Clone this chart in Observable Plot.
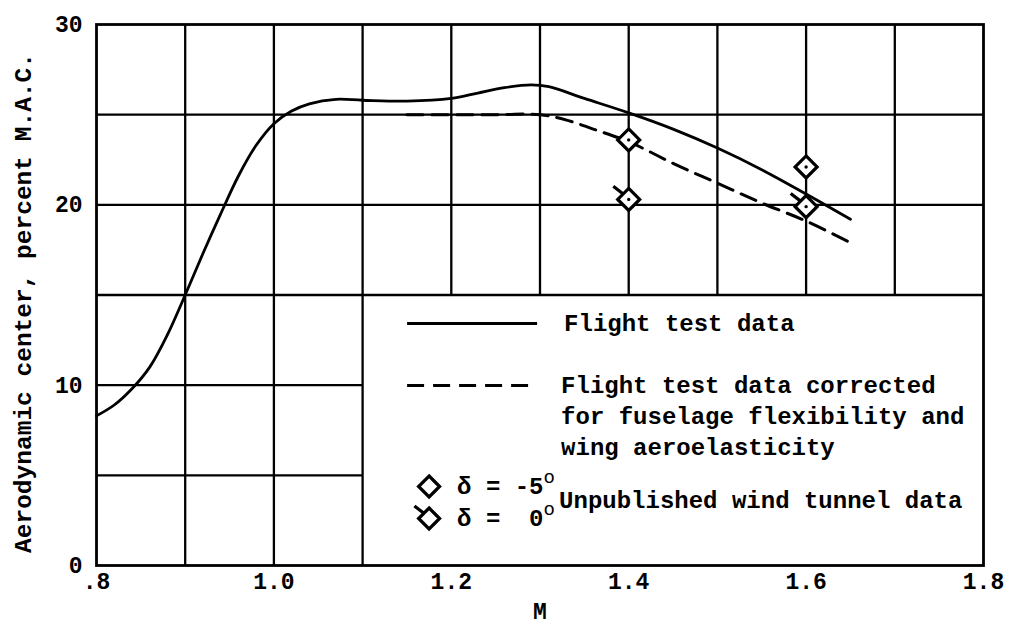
<!DOCTYPE html>
<html>
<head>
<meta charset="utf-8">
<script src="https://cdn.jsdelivr.net/npm/d3@7"></script>
<script src="https://cdn.jsdelivr.net/npm/@observablehq/plot@0.6"></script>
<style>
  html, body { margin: 0; padding: 0; background: white; }
  #chart { width: 1016px; height: 634px; }
</style>
</head>
<body>
<div id="chart"></div>
<script>
// ---- Data ----
const flightM  = [0.80, 0.82, 0.84, 0.86, 0.88, 0.90, 0.92, 0.94, 0.96, 0.98, 1.00, 1.02, 1.04, 1.07, 1.10, 1.15, 1.20, 1.23, 1.26, 1.29, 1.31, 1.35, 1.40, 1.45, 1.50, 1.55, 1.60, 1.65];
const flightAC = [8.3, 8.9, 9.8, 11.0, 12.8, 15.0, 17.3, 19.5, 21.6, 23.3, 24.5, 25.2, 25.6, 25.85, 25.8, 25.75, 25.9, 26.2, 26.5, 26.65, 26.55, 25.9, 25.1, 24.2, 23.15, 21.95, 20.6, 19.2];

const correctedM  = [1.15, 1.20, 1.25, 1.30, 1.33, 1.36, 1.40, 1.45, 1.50, 1.55, 1.60, 1.65];
const correctedAC = [25.0, 25.0, 25.0, 25.0, 24.7, 24.2, 23.5, 22.3, 21.2, 20.1, 19.1, 17.9];

const tunnelM     = [1.4, 1.4, 1.6, 1.6];
const tunnelAC    = [23.6, 20.3, 22.1, 19.9];
const tunnelDelta = [-5, 0, -5, 0];

const xTicks      = [0.8, 1.0, 1.2, 1.4, 1.6, 1.8];
const xTickLabels = [".8", "1.0", "1.2", "1.4", "1.6", "1.8"];
const yTicks      = [0, 10, 20, 30];

const gridFullX  = [0.9, 1.0, 1.1];
const gridUpperX = [1.2, 1.3, 1.4, 1.5, 1.6, 1.7];
const gridFullY  = [15, 20, 25];
const gridLeftY  = [5, 10];

const yTitle = "Aerodynamic center, percent M.A.C.";
const xTitle = "M";
const legendSolid = "Flight test data";
const legendDashed = ["Flight test data corrected", "for fuselage flexibility and", "wing aeroelasticity"];
const legendTunnel = "Unpublished wind tunnel data";

// ---- Build tables ----
const flight = flightM.map((m, i) => ({M: m, ac: flightAC[i]}));
const corrected = correctedM.map((m, i) => ({M: m, ac: correctedAC[i]}));
const tunnel = tunnelM.map((m, i) => ({M: m, ac: tunnelAC[i], delta: tunnelDelta[i]}));

// ---- Custom symbols ----
const diamondSym = {
  draw(ctx, size) {
    const h = Math.sqrt(size / Math.PI);
    ctx.moveTo(0, -h); ctx.lineTo(h, 0); ctx.lineTo(0, h); ctx.lineTo(-h, 0); ctx.closePath();
  }
};
const flagDiamondSym = {
  draw(ctx, size) {
    const h = Math.sqrt(size / Math.PI);
    ctx.moveTo(0, -h); ctx.lineTo(h, 0); ctx.lineTo(0, h); ctx.lineTo(-h, 0); ctx.closePath();
    ctx.moveTo(-h * 0.5, -h * 0.5); ctx.lineTo(-h * 1.4, -h * 1.2);
  }
};

const FONT = "'Liberation Mono', 'DejaVu Sans Mono', monospace";
const LW = 2.3;

const chart = Plot.plot({
  width: 1016,
  height: 634,
  marginLeft: 96,
  marginRight: 33,
  marginTop: 24,
  marginBottom: 69,
  x: {domain: [0.8, 1.8]},
  y: {domain: [0, 30]},
  style: {fontFamily: FONT, fontWeight: "bold", fontSize: "23px", color: "black", background: "white", overflow: "visible"},
  marks: [
    Plot.ruleX(gridFullX, {y1: 0, y2: 30, stroke: "black", strokeWidth: LW}),
    Plot.ruleX(gridUpperX, {y1: 15, y2: 30, stroke: "black", strokeWidth: LW}),
    Plot.ruleY(gridFullY, {x1: 0.8, x2: 1.8, stroke: "black", strokeWidth: LW}),
    Plot.ruleY(gridLeftY, {x1: 0.8, x2: 1.1, stroke: "black", strokeWidth: LW}),
    Plot.frame({stroke: "black", strokeWidth: 2.8}),
    Plot.line(flight, {x: "M", y: "ac", curve: "catmull-rom", stroke: "black", strokeWidth: 2.8}),
    Plot.line(corrected, {x: "M", y: "ac", curve: "catmull-rom", stroke: "black", strokeWidth: 3, strokeDasharray: "16,9"}),
    Plot.dot(tunnel.filter(d => d.delta === -5), {x: "M", y: "ac", symbol: diamondSym, r: 11, fill: "white", stroke: "black", strokeWidth: 3.2}),
    Plot.dot(tunnel.filter(d => d.delta === 0), {x: "M", y: "ac", symbol: flagDiamondSym, r: 11, fill: "white", stroke: "black", strokeWidth: 3.2}),
    Plot.dot(tunnel, {x: "M", y: "ac", r: 1.7, fill: "black"}),
    Plot.axisX({ticks: xTicks, tickFormat: (d, i) => xTickLabels[i], tickSize: 0, tickPadding: 7, fontSize: 23, label: null}),
    Plot.axisY({ticks: yTicks, tickSize: 0, tickPadding: 14, fontSize: 23, label: null}),
    Plot.text([yTitle], {frameAnchor: "left", textAnchor: "middle", dx: -73, dy: 8, rotate: -90, fontSize: 24.5, fill: "black"}),
    Plot.text([xTitle], {frameAnchor: "bottom", dy: 53, fontSize: 23, fill: "black"})
  ]
});

document.getElementById("chart").appendChild(chart);

// ---- Legend inside the lower-right blank area ----
const svg = d3.select(chart);
const xs = chart.scale("x"), ys = chart.scale("y");
const x0 = xs.apply(1.1);      // left edge of the blank legend area
const yTop = ys.apply(15);      // top edge of the blank legend area
const g = svg.append("g")
  .attr("font-family", FONT).attr("font-weight", "bold").attr("font-size", 24)
  .attr("fill", "black").attr("text-anchor", "start");

// solid line sample
const lx1 = x0 + 45, lx2 = x0 + 175, tx = x0 + 200;
const rowSolid = yTop + 29;
g.append("line").attr("x1", lx1).attr("x2", lx2).attr("y1", rowSolid).attr("y2", rowSolid)
  .attr("stroke", "black").attr("stroke-width", 2.8);
g.append("text").attr("x", tx + 2).attr("y", rowSolid).attr("dy", "0.32em").text(legendSolid);

// dashed line sample
const rowDash = yTop + 91;
g.append("line").attr("x1", lx1).attr("x2", lx2).attr("y1", rowDash).attr("y2", rowDash)
  .attr("stroke", "black").attr("stroke-width", 3).attr("stroke-dasharray", "17,9");
legendDashed.forEach((t, i) => {
  g.append("text").attr("x", tx - 1).attr("y", rowDash + i * 31).attr("dy", "0.32em").text(t);
});

// wind tunnel symbols
const rowD1 = yTop + 192, rowD2 = yTop + 224;
const dx = x0 + 67;
const symPath = (sym) => d3.symbol().type(sym).size(Math.PI * 10.5 * 10.5)();
g.append("path").attr("d", symPath(diamondSym)).attr("transform", `translate(${dx},${rowD1})`)
  .attr("fill", "white").attr("stroke", "black").attr("stroke-width", 3.2);
g.append("path").attr("d", symPath(flagDiamondSym)).attr("transform", `translate(${dx},${rowD2})`)
  .attr("fill", "white").attr("stroke", "black").attr("stroke-width", 3.2);

const t1 = g.append("text").attr("x", x0 + 95).attr("y", rowD1).attr("dy", "0.32em");
t1.append("tspan").text("\u03B4 = -5");
t1.append("tspan").attr("dy", -11).attr("font-size", 19).attr("font-weight", "normal").text("o");
const t2 = g.append("text").attr("x", x0 + 95).attr("y", rowD2).attr("dy", "0.32em");
t2.append("tspan").text("\u03B4 =  0");
t2.append("tspan").attr("dy", -11).attr("font-size", 19).attr("font-weight", "normal").text("o");

g.append("text").attr("x", x0 + 197).attr("y", (rowD1 + rowD2) / 2 - 2).attr("dy", "0.32em").text(legendTunnel);
</script>
</body>
</html>
